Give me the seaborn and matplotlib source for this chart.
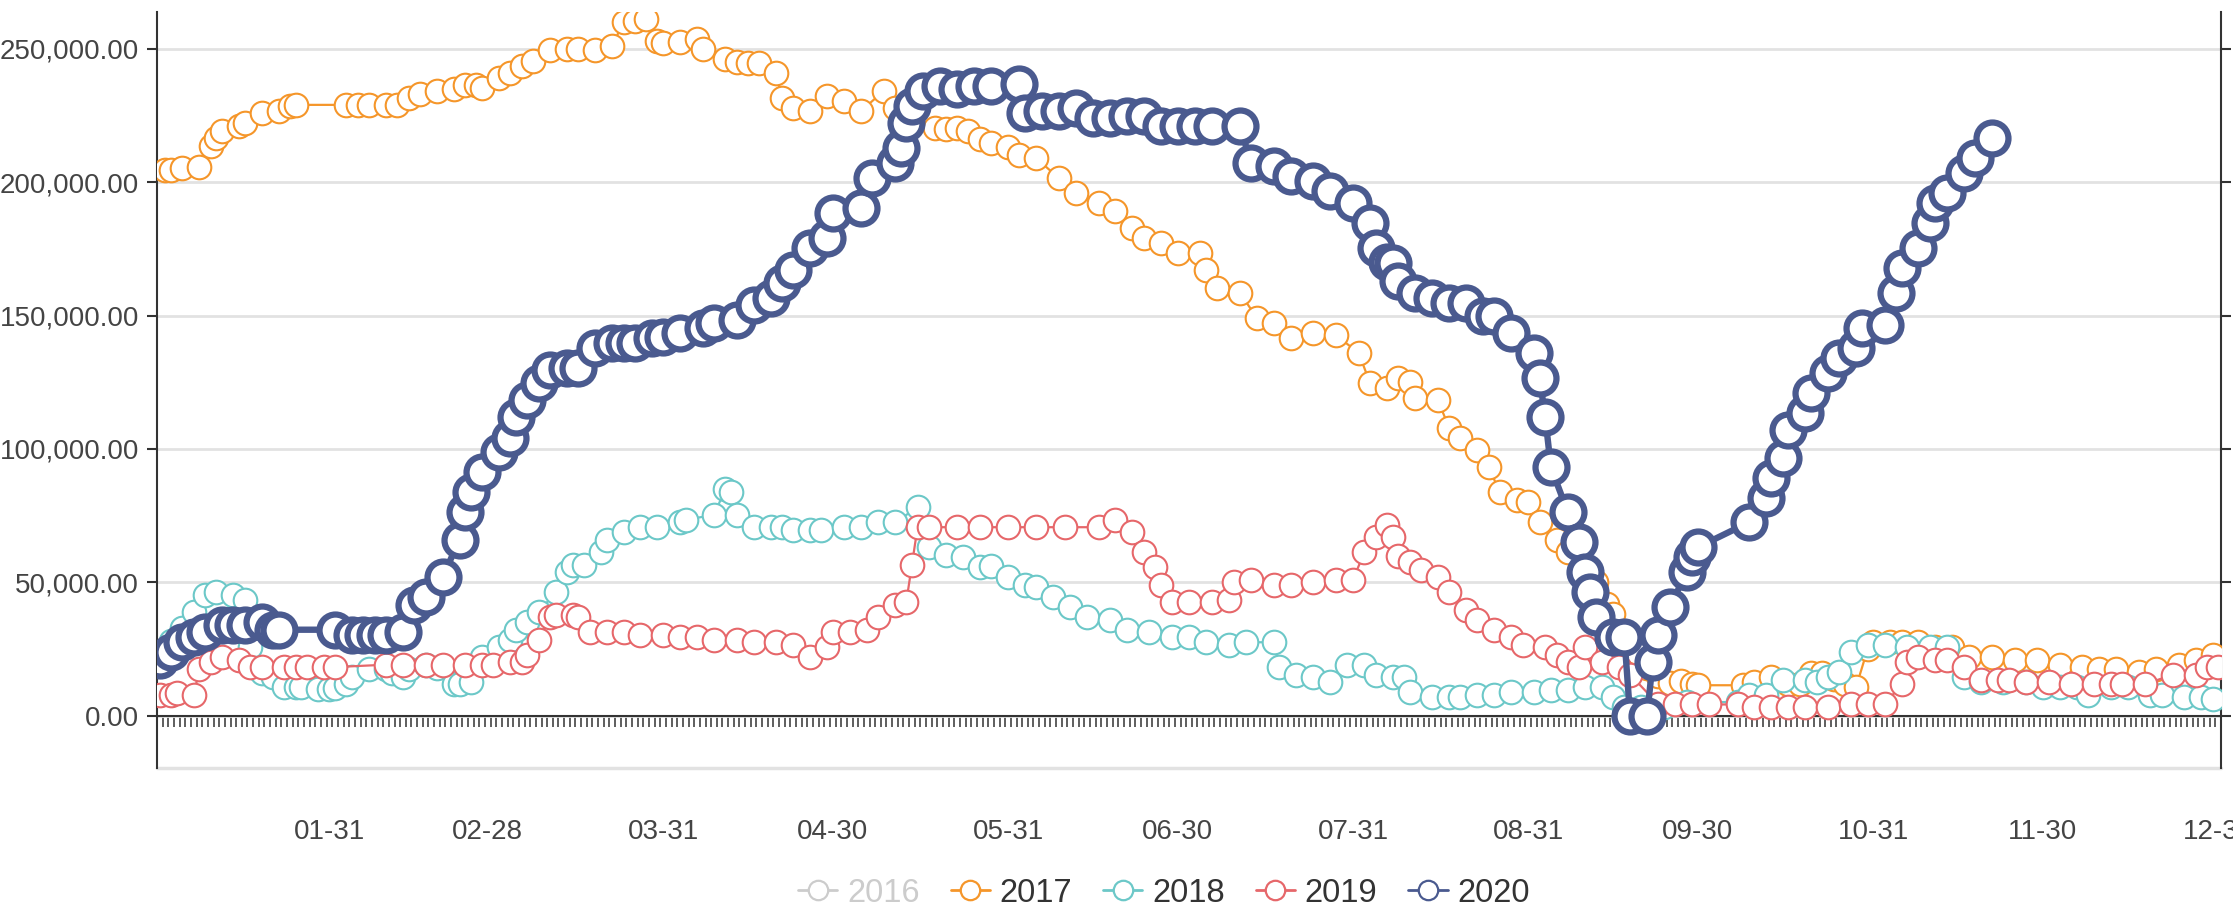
import numpy as np
import pandas as pd
import matplotlib
matplotlib.use("Agg")
import matplotlib.pyplot as plt
import seaborn as sns
from matplotlib import font_manager
from matplotlib.lines import Line2D
from matplotlib.ticker import FuncFormatter, FixedLocator

sns.set_theme(style="white")
_names = {f.name for f in font_manager.fontManager.ttflist}
NARROW = "Liberation Sans Narrow" in _names
if NARROW:
    plt.rcParams["font.family"] = ["Liberation Sans Narrow", "DejaVu Sans"]
    TICK_FS, LEG_FS = 23, 25
else:
    plt.rcParams["font.family"] = ["Liberation Sans", "DejaVu Sans"]
    TICK_FS, LEG_FS = 20, 23.5

# ---------------- data ----------------
days = pd.date_range("2019-01-01", "2019-12-31", freq="D")
categories = days.strftime("%m-%d").tolist()
month_end_idx = [i for i, d in enumerate(days) if d.is_month_end]
month_end_labels = [categories[i] for i in month_end_idx]

years = ["2016", "2017", "2018", "2019", "2020"]
colors = {"2016": "#cccccc", "2017": "#f5962a", "2018": "#6cc8c8",
          "2019": "#e6676a", "2020": "#4a5a8f"}

# day index (position in categories) and value in thousands
x2017 = [1, 2, 4, 7, 9, 10, 11, 14, 15, 18, 21, 23, 24,
         33, 35, 37, 40, 42, 44, 46, 49, 52, 54, 56, 57, 60, 62, 64, 66, 69, 72,
         74, 77, 80, 82, 84, 86, 88, 89, 92, 95, 96, 100, 102, 104, 106, 109, 110, 112,
         115, 118, 121, 124, 128, 130, 133, 137, 139, 141, 143, 145, 147, 150, 152, 155,
         159, 162, 166, 169, 172, 174, 177, 180, 184, 185, 187, 191, 194, 197, 200, 204,
         208, 212, 214, 217, 219, 221, 222, 226, 228, 230, 233, 235, 237, 240, 242, 244,
         247, 249, 252, 254, 256, 257, 259, 261, 263, 265, 267, 269, 271, 272,
         280, 282, 285, 288, 290, 292, 294, 296, 298, 300, 302, 303, 306, 308, 311, 314,
         317, 320, 324, 328, 332, 336, 340, 343, 346, 350, 353, 357, 360, 363]
v2017 = [204.6, 204.6, 205.2, 205.5, 213.6, 216.4, 219.2, 221, 222, 225.7, 226.6, 228.5, 228.9,
         228.9, 228.9, 228.9, 228.9, 228.9, 231.3, 232.8, 234.1, 234.7, 236.5, 236.5, 235.4, 238.8, 240.7, 243.5, 245.3, 249.6, 250,
         250, 249.5, 251, 260, 260.5, 261, 252.8, 251.9, 252.5, 253.7, 250, 246, 245, 244.4, 244.4, 240.7, 231.3, 227.6,
         226.6, 232.3, 230.4, 226.6, 234.1, 227.6, 223.8, 220.1, 220, 220.1, 219, 216, 214.5, 213, 210, 208.9,
         201.4, 195.8, 192.1, 189.3, 182.8, 179, 177.1, 173.4, 173.4, 166.9, 160.3, 158.5, 149.1, 147.3, 141.6, 143.5,
         142.6, 136, 124.8, 123, 126.7, 125, 119.2, 118.3, 108, 104.3, 99.6, 93.1, 83.7, 80.9, 80, 72.5,
         66, 61.3, 53.8, 50, 42, 38, 30, 24, 18, 15, 12.5, 13, 12, 11.5,
         11.5, 12.7, 14.6, 12, 12, 16, 16, 14, 12, 11, 25, 27.7, 27.6, 27.6, 27.6, 25.7,
         25.7, 22, 22, 21, 21, 19.2, 18.2, 17.4, 17.4, 16.4, 17.4, 19.2, 21, 22.8]

x2018 = [0, 2, 4, 6, 8, 10, 13, 15, 16, 17, 18, 20, 22, 24, 25, 28, 30, 31, 33, 34, 37, 40, 41,
         43, 44, 47, 49, 52, 53, 55, 57, 60, 62, 63, 65, 67, 70, 72,
         73, 75, 78, 79, 82, 85, 88, 92, 93, 98, 100, 101, 102, 105, 108, 110, 112, 115, 117,
         121, 124, 127, 130, 134, 136, 139, 142, 145,
         147, 150, 153, 155, 158, 161, 164, 168, 171, 175, 179, 182, 185, 189, 192, 197, 198,
         201, 204, 207, 210, 213, 215, 218, 220, 221, 225, 228, 230, 233, 236, 239, 243, 246,
         249, 252, 255, 257, 259, 262, 266, 270, 279, 281, 284, 287, 291, 293, 295, 297, 299,
         302, 305, 309, 313, 316, 319, 322, 326, 330, 333, 336, 339, 341, 345, 348, 352, 354,
         358, 361, 363]
v2018 = [22, 28, 33, 38.9, 45.4, 46.4, 45.4, 43.6, 26, 18, 16, 14.6, 11, 10.8, 10.8, 10, 10, 10.5, 12, 14.6, 17.4, 17.4, 16,
         14.6, 17.4, 19, 18, 11.8, 12, 12.7, 22, 25.7, 28.5, 32.3, 35.1, 38.9, 46.4, 53.9,
         56.6, 56.6, 61.3, 66, 68.8, 70.7, 70.7, 72.5, 73.5, 75.3, 85, 84, 75.3, 70.7, 70.7, 70.7, 69.8, 69.8, 69.8,
         70.7, 70.7, 72.5, 72.5, 78.1, 63.2, 60.4, 59.4, 55.7,
         56, 52, 49.2, 48.2, 44.5, 40.8, 37, 36.1, 32.3, 31.4, 29.5, 29.5, 27.6, 26.7, 27.6, 27.6, 18.3,
         15.5, 14.6, 12.7, 19.2, 19.2, 15.5, 14.6, 14.6, 9, 7.1, 7.1, 7.1, 8, 8, 9, 9, 9.9,
         9.9, 10.8, 10.8, 7.1, 3.4, 3.4, 3.4, 5.2, 5.2, 8, 8, 13.6, 13.6, 12.7, 14.6, 16.4, 23.8,
         26.7, 26.7, 25.7, 25.7, 25.7, 14.6, 12.7, 12.7, 12.7, 10.8, 10.8, 10.8, 8, 10.8, 10.8, 8, 8,
         7.1, 7.1, 6.5]

x2019 = [0, 2, 3, 6, 7, 9, 11, 14, 16, 18, 22, 24, 26, 29, 31,
         40, 43, 47, 50, 54, 57, 59, 62, 64, 65, 67, 69, 70, 73, 74, 76, 79, 82, 85, 89, 92, 95,
         98, 102, 105, 109, 112, 115, 118, 119, 122, 125, 127, 130, 132, 133, 134, 136, 141, 145,
         150, 155, 160, 166, 169, 172, 174, 176, 177, 179, 182, 186, 189, 190, 193, 197, 200, 204,
         208, 211, 213, 215, 217, 218, 219, 221, 223, 226, 228, 231, 233, 236, 239, 241, 245, 247,
         249, 251, 252, 255, 258, 260, 265, 268, 271, 274,
         279, 282, 285, 288, 291, 295, 299, 302, 305, 308, 309, 311, 314, 316, 319, 322, 325, 327,
         330, 334, 338, 342, 345, 347, 351, 356, 360, 362, 364]
v2019 = [8, 8, 8.5, 8, 17.4, 20.2, 22, 21, 18.3, 18.3, 18.3, 18.3, 18.3, 18.3, 18.3,
         19.2, 19.2, 19.2, 19.2, 19.2, 19.2, 19.2, 20.2, 20.2, 23, 28.5, 37, 37.9, 37.9, 37, 31.4, 31.4, 31.4, 30.4, 30.4, 29.5, 29.5,
         28.5, 28.5, 27.6, 27.6, 26.7, 22, 25.7, 31.4, 31.4, 32.3, 37, 41.7, 42.6, 56.6, 70.7, 70.7, 70.7, 70.7,
         70.7, 70.7, 70.7, 70.7, 73.4, 68.8, 61.3, 55.7, 49.2, 42.6, 42.6, 42.6, 43.5, 50.1, 51, 49.2, 49.2, 50.1,
         51, 51, 61.3, 66.9, 71.6, 66.9, 60, 57.6, 54.8, 52, 46.4, 39.8, 36.1, 32.3, 29.5, 26.7, 25.7, 22.9,
         20.2, 18.3, 25.7, 20.2, 18.3, 15.5, 4.3, 4.3, 4.3, 4.3,
         4.3, 3.4, 3.4, 3.4, 3.4, 3.4, 4.3, 4.3, 4.3, 11.8, 20.2, 22, 21, 21, 18.3, 13.6, 13.6, 13.6,
         12.7, 12.7, 11.8, 11.8, 11.8, 11.8, 11.8, 15.5, 15.5, 18.3, 18.3]

x2020 = [0, 2, 4, 6, 8, 11, 13, 15, 18, 20, 21, 31, 34, 36, 38, 40, 43, 45, 47, 50, 53, 54, 55,
         57, 60, 62, 63, 65, 67, 69, 72,
         74, 77, 80, 82, 84, 87, 89, 92, 96, 98, 102, 105, 108, 110, 112, 115, 118, 119, 124,
         126, 130, 131, 132, 133, 135, 138, 141, 144, 147, 152, 153, 156, 159, 162, 165, 168,
         171, 174, 177, 180, 183, 186, 191, 193, 197, 200, 204, 207, 211, 214, 215, 217, 218,
         219, 222, 225, 228, 231, 234, 236, 239, 243, 244, 245, 246, 249, 251, 252, 253, 254,
         257, 259, 260, 263, 264, 265, 267, 270, 271, 272, 281, 284, 285, 287, 288, 291, 292,
         295, 297, 300, 301, 305, 307, 308, 311, 313, 314, 316, 319, 321, 324]
v2020 = [21.1, 23.9, 27.6, 29.5, 31.4, 34.2, 34.2, 34.2, 35.1, 32.3, 32.3, 32.3, 30.5, 30.5, 30.5, 30.5, 31.4, 41.7, 44.5, 52, 66, 76.3, 83.7,
         91.2, 98.7, 104.3, 111.8, 118.3, 124.8, 129.5, 130.4,
         130.4, 137.9, 139.8, 139.8, 139.8, 141.7, 142, 143.5, 145.4, 147.3, 148.2, 153.8, 156.6, 162.2, 166.9, 175.3, 179, 188.4, 190.2,
         201.4, 207, 212.6, 222, 228.5, 234.1, 236, 235, 236, 236, 236.9, 225.7, 226.6, 226.6, 227.6, 223.8, 223.8,
         224.8, 224.8, 221, 221, 221, 221, 221, 207, 206.1, 202.4, 200.5, 196.8, 192.1, 184.6, 175.3, 170, 169.7,
         163.1, 158.5, 156.6, 154.7, 154.7, 150, 150, 143.5, 136, 126.7, 111.8, 93.1, 76.3, 65.1, 53.8, 46.4, 37,
         29.5, 29.5, 0, 0, 20.2, 30.5, 40.7, 53.8, 59.4, 63.2, 72.5, 81.8, 89.3, 96.8, 107, 113.6, 121.1,
         128.6, 134.2, 137.9, 145.4, 146.3, 158.5, 167.8, 175.3, 184.6, 192.1, 195.8, 203.3, 208.9, 216.4]

series = {"2017": (x2017, v2017), "2018": (x2018, v2018),
          "2019": (x2019, v2019), "2020": (x2020, v2020)}
style = {"2017": dict(lw=1.6, ms=17, mew=1.5),
         "2018": dict(lw=1.6, ms=17, mew=1.5),
         "2019": dict(lw=1.6, ms=17, mew=1.5),
         "2020": dict(lw=4.6, ms=23, mew=4.5)}

# ---------------- figure ----------------
W, H = 2233, 916
fig = plt.figure(figsize=(W / 100, H / 100), dpi=100)
ax = fig.add_axes([157 / W, 1 - 768 / H, (2221 - 157) / W, (768 - 12.5) / H])

ymin, ymax = -19500, 263500
for i, yr in enumerate(["2017", "2018", "2019", "2020"]):
    xs, vs = series[yr]
    st = style[yr]
    df = pd.DataFrame({"x": xs, "y": np.array(vs) * 1000})
    sns.lineplot(data=df, x="x", y="y", ax=ax, color=colors[yr], linewidth=st["lw"],
                 marker="o", markersize=st["ms"], markerfacecolor="white",
                 markeredgecolor=colors[yr], markeredgewidth=st["mew"],
                 estimator=None, sort=False, legend=False, zorder=3 + i)

ax.set_xlim(-0.5, len(categories) - 0.5)
ax.set_ylim(ymin, ymax)
ax.set_xlabel("")
ax.set_ylabel("")

# y axis
yt = [0, 50000, 100000, 150000, 200000, 250000]
ax.yaxis.set_major_locator(FixedLocator(yt))
ax.yaxis.set_major_formatter(FuncFormatter(lambda v, p: f"{v:,.2f}"))
ax.yaxis.grid(True, color="#e2e2e2", linewidth=2)
ax.xaxis.grid(False)
ax.tick_params(axis="y", which="major", direction="out", length=7, width=1.5,
               color="#333333", labelsize=TICK_FS, labelcolor="#444444",
               left=True, right=True, labelright=False, pad=6)

# x axis at y=0
ax.spines["bottom"].set_position(("data", 0))
ax.spines["bottom"].set_color("#333333")
ax.spines["bottom"].set_linewidth(1.5)
ax.spines["bottom"].set_zorder(2)
ax.spines["left"].set_color("#333333")
ax.spines["left"].set_linewidth(1.5)
ax.spines["right"].set_color("#333333")
ax.spines["right"].set_linewidth(1.5)
ax.spines["top"].set_visible(False)
ax.axhline(ymin, color="#e2e2e2", linewidth=2.5, zorder=1, clip_on=False)

ax.xaxis.set_major_locator(FixedLocator(month_end_idx))
ax.set_xticklabels(month_end_labels)
ax.xaxis.set_minor_locator(FixedLocator(np.arange(-0.5, len(categories), 1.0)))
ax.tick_params(axis="x", which="major", length=0, pad=74, labelsize=TICK_FS,
               labelcolor="#444444")
ax.tick_params(axis="x", which="minor", direction="out", length=8, width=1.1,
               color="#333333", bottom=True)

# legend
handles = [Line2D([0], [0], color=colors[yr], lw=2, marker="o", markersize=14,
                  markerfacecolor="white", markeredgecolor=colors[yr], markeredgewidth=1.6)
           for yr in years]
leg = fig.legend(handles, years, loc="center", bbox_to_anchor=(1164 / W, 1 - 893 / H),
                 ncol=5, frameon=False, fontsize=LEG_FS, handlelength=1.2,
                 handletextpad=0.3, columnspacing=0.95)
for t, yr in zip(leg.get_texts(), years):
    t.set_color("#cccccc" if yr == "2016" else "#333333")

fig.savefig("out.png", dpi=100)
